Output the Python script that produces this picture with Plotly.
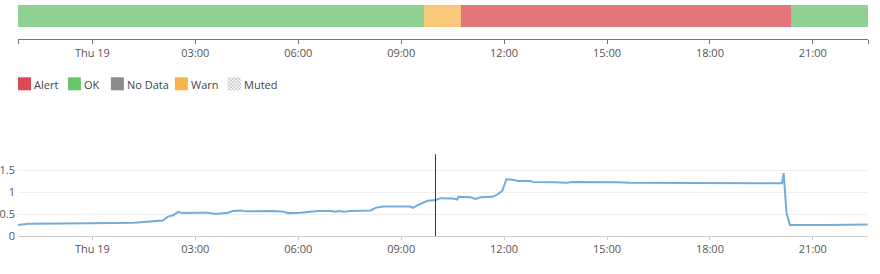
import plotly.graph_objects as go
import pandas as pd

# ---------------- data ----------------
status_names = ["OK", "Warn", "Alert", "OK"]
status_start = ["2023-10-18 21:50", "2023-10-19 09:40", "2023-10-19 10:44", "2023-10-19 20:21"]
status_end = ["2023-10-19 09:40", "2023-10-19 10:44", "2023-10-19 20:21", "2023-10-19 22:37"]

series_times = [
    "2023-10-18 21:50", "2023-10-18 22:07", "2023-10-18 23:58", "2023-10-19 01:13", "2023-10-19 01:30",
    "2023-10-19 02:03", "2023-10-19 02:12", "2023-10-19 02:21", "2023-10-19 02:30", "2023-10-19 02:38",
    "2023-10-19 03:10", "2023-10-19 03:22", "2023-10-19 03:36", "2023-10-19 03:57", "2023-10-19 04:06",
    "2023-10-19 04:20", "2023-10-19 04:28", "2023-10-19 05:07", "2023-10-19 05:17", "2023-10-19 05:35",
    "2023-10-19 05:42", "2023-10-19 06:04", "2023-10-19 06:27", "2023-10-19 06:34", "2023-10-19 06:57",
    "2023-10-19 07:05", "2023-10-19 07:11", "2023-10-19 07:19", "2023-10-19 07:32", "2023-10-19 08:07",
    "2023-10-19 08:15", "2023-10-19 08:28", "2023-10-19 09:16", "2023-10-19 09:20", "2023-10-19 09:29",
    "2023-10-19 09:37", "2023-10-19 09:46", "2023-10-19 10:00", "2023-10-19 10:09", "2023-10-19 10:31",
    "2023-10-19 10:38", "2023-10-19 10:40", "2023-10-19 11:01", "2023-10-19 11:10", "2023-10-19 11:19",
    "2023-10-19 11:39", "2023-10-19 11:48", "2023-10-19 11:57", "2023-10-19 12:04", "2023-10-19 12:15",
    "2023-10-19 12:25", "2023-10-19 12:46", "2023-10-19 12:51", "2023-10-19 13:26", "2023-10-19 13:50",
    "2023-10-19 13:59", "2023-10-19 14:48", "2023-10-19 15:18", "2023-10-19 15:40", "2023-10-19 17:08",
    "2023-10-19 20:02", "2023-10-19 20:06", "2023-10-19 20:09", "2023-10-19 20:14", "2023-10-19 20:20",
    "2023-10-19 21:00", "2023-10-19 21:24", "2023-10-19 22:36",
]
series_values = [
    0.25, 0.28, 0.29, 0.30, 0.32,
    0.35, 0.44, 0.47, 0.55, 0.52,
    0.53, 0.53, 0.50, 0.53, 0.57,
    0.58, 0.56, 0.56, 0.57, 0.55,
    0.52, 0.53, 0.55, 0.57, 0.57,
    0.55, 0.57, 0.55, 0.57, 0.58,
    0.64, 0.67, 0.67, 0.64, 0.70,
    0.75, 0.80, 0.82, 0.86, 0.85,
    0.83, 0.89, 0.88, 0.84, 0.88,
    0.89, 0.94, 1.03, 1.29, 1.28,
    1.25, 1.25, 1.23, 1.22, 1.21,
    1.23, 1.23, 1.22, 1.21, 1.21,
    1.20, 1.20, 1.43, 0.52, 0.25,
    0.26, 0.25, 0.26,
]

tick_vals = ["2023-10-19 00:00", "2023-10-19 03:00", "2023-10-19 06:00", "2023-10-19 09:00",
             "2023-10-19 12:00", "2023-10-19 15:00", "2023-10-19 18:00", "2023-10-19 21:00"]
tick_text = ["Thu 19", "03:00", "06:00", "09:00", "12:00", "15:00", "18:00", "21:00"]
x_range = ["2023-10-18 21:49:50", "2023-10-19 22:36:30"]
cursor_time = "2023-10-19 10:00"

legend_labels = ["Alert", "OK", "No Data", "Warn", "Muted"]
y_tick_vals = [0, 0.5, 1, 1.5]
y_tick_text = ["0", "0.5", "1", "1.5"]

# ---------------- styles ----------------
status_colors = {"OK": "#8fd193", "Warn": "#f8c97b", "Alert": "#e2747a"}
legend_colors = {"Alert": "#dc4853", "OK": "#69c46e", "No Data": "#8c8c8c", "Warn": "#f6b54a"}
FONT = "Open Sans"
W, H = 880, 274
H_EFF = 267.0
ML, MR = 17, 12
PW = W - ML - MR


def px_x(p):
    return (p - ML) / PW


def px_y(p):
    return 1 - p / H_EFF


fig = go.Figure()

# status strip
starts = pd.to_datetime(status_start)
ends = pd.to_datetime(status_end)
durations = [(e - s).total_seconds() * 1000 for s, e in zip(starts, ends)]
fig.add_trace(go.Bar(
    orientation="h", y=[0.5] * len(status_names), x=durations, base=status_start,
    width=1, marker=dict(color=[status_colors[n] for n in status_names], line=dict(width=0)),
    xaxis="x", yaxis="y", showlegend=False, hoverinfo="skip",
))

# metric line
fig.add_trace(go.Scatter(
    x=series_times, y=series_values, mode="lines",
    line=dict(color="#74acd8", width=2), xaxis="x2", yaxis="y2",
    showlegend=False, hoverinfo="skip",
))

tv_top = [x_range[0]] + tick_vals + [x_range[1]]
tt_top = [""] + tick_text + [""]

fig.update_layout(
    width=W, height=H,
    margin=dict(l=ML, r=MR, t=0, b=0),
    paper_bgcolor="white", plot_bgcolor="white",
    font=dict(family=FONT, size=11, color="#555"),
    bargap=0,
    xaxis=dict(type="date", range=x_range, domain=[0, 1], anchor="y",
               tickvals=tv_top, ticktext=tt_top, ticks="outside", ticklen=4,
               tickcolor="#777", showline=True, linecolor="#777", linewidth=1,
               showgrid=False, zeroline=False, tickfont=dict(size=11, color="#555")),
    yaxis=dict(domain=[px_y(39), px_y(5)], range=[-0.567, 1], visible=False, fixedrange=True),
    xaxis2=dict(type="date", range=x_range, domain=[0, 1], anchor="y2",
                tickvals=tick_vals, ticktext=tick_text, ticks="outside", ticklen=3,
                tickcolor="#ccc", showline=True, linecolor="#ccc", linewidth=1,
                showgrid=False, zeroline=False, tickfont=dict(size=11, color="#555")),
    yaxis2=dict(domain=[px_y(236), px_y(154.3)], range=[0, 1.857], anchor="x2",
                tickvals=y_tick_vals, ticktext=y_tick_text, ticks="", showgrid=True,
                gridcolor="#efefef", gridwidth=1, zeroline=False, showline=False,
                ticklabelstandoff=2, tickfont=dict(size=11, color="#555")),
)

shapes = []
annotations = []
# crosshair
shapes.append(dict(type="line", xref="x2", yref="y2 domain", x0=cursor_time, x1=cursor_time,
                   y0=0, y1=1, line=dict(color="#333", width=1)))

# legend row
sq_left = [17, 67, 110, 174, 227]
sq = 13
y_top, y_bot = 77.3, 90.3
for lbl, left in zip(legend_labels, sq_left):
    if lbl != "Muted":
        shapes.append(dict(type="rect", xref="paper", yref="paper",
                           x0=px_x(left), x1=px_x(left + sq), y0=px_y(y_bot), y1=px_y(y_top),
                           fillcolor=legend_colors[lbl], line=dict(width=0)))
    else:
        segs = []
        step = 3.25
        k = 0.0
        while k <= 2 * sq + 0.01:
            xa, ya = max(0, k - sq), min(sq, k)
            xb, yb = min(sq, k), max(0, k - sq)
            segs.append(f"M{px_x(left + xa):.5f},{px_y(y_top + ya):.5f}L{px_x(left + xb):.5f},{px_y(y_top + yb):.5f}")
            c = k - sq
            xa2, ya2 = max(0, c), max(0, -c)
            xb2, yb2 = min(sq, sq + c), min(sq, sq - c)
            segs.append(f"M{px_x(left + xa2):.5f},{px_y(y_top + ya2):.5f}L{px_x(left + xb2):.5f},{px_y(y_top + yb2):.5f}")
            k += step
        shapes.append(dict(type="path", xref="paper", yref="paper", path="".join(segs),
                           line=dict(color="#bbbbbb", width=0.8)))
    annotations.append(dict(xref="paper", yref="paper", x=px_x(left + 14.5), y=px_y(84),
                            text=lbl, showarrow=False, xanchor="left", yanchor="middle",
                            font=dict(family=FONT, size=11, color="#444")))

fig.update_layout(shapes=shapes, annotations=annotations)

fig.write_html("out.html")
